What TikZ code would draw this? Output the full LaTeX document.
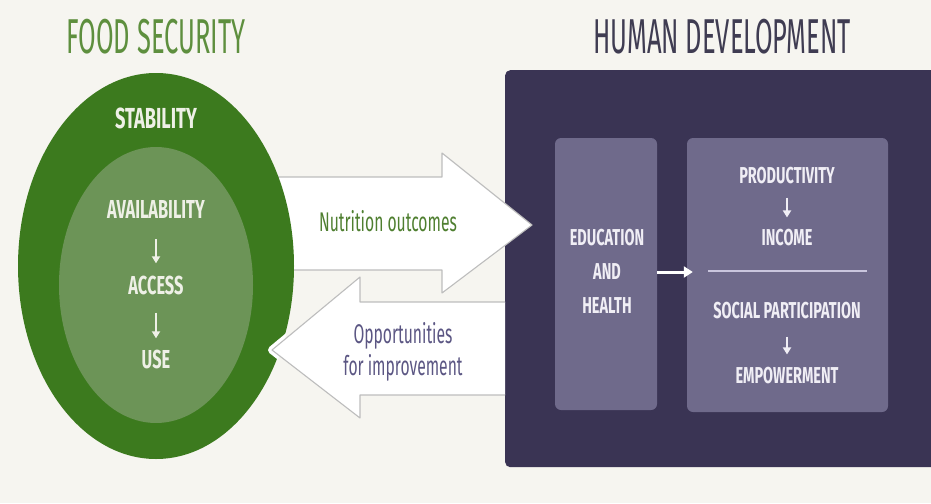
\documentclass[tikz,border=0pt]{standalone}
\usepackage{fontspec}
\setmainfont{Fira Sans}
\newfontfamily\headfont[FakeStretch=0.52]{Fira Sans}
\newfontfamily\capsfont[FakeStretch=0.63]{Fira Sans}
\newfontfamily\notefont[FakeStretch=0.58]{Fira Sans}
\usetikzlibrary{shapes.geometric,arrows.meta}

\definecolor{paper}{HTML}{F6F5F0}
\definecolor{fsgreen}{HTML}{5E8F3E}
\definecolor{hdtitle}{HTML}{3F3C52}
\definecolor{fsdark}{HTML}{3C7A1E}
\definecolor{fslight}{HTML}{6C9457}
\definecolor{fstext}{HTML}{EEF0E6}
\definecolor{panel}{HTML}{3A3454}
\definecolor{card}{HTML}{6F6A8B}
\definecolor{cardtext}{HTML}{F0EEF5}
\definecolor{rulec}{HTML}{C9C5DD}
\definecolor{nutri}{HTML}{4F7F30}
\definecolor{oppo}{HTML}{5B5683}
\definecolor{arrowedge}{HTML}{BDBDBD}

\begin{document}
\begin{tikzpicture}[x=1pt,y=-1pt,
  lab/.style={inner sep=0pt, anchor=base},
  title/.style={lab, font=\headfont\fontsize{49}{49}\selectfont},
  ring/.style={lab, text=fstext, font=\capsfont\bfseries\fontsize{29}{29}\selectfont},
  core/.style={lab, text=fstext, font=\capsfont\bfseries\fontsize{26}{26}\selectfont},
  cardtxt/.style={lab, text=cardtext, font=\capsfont\bfseries\fontsize{23}{23}\selectfont},
  note/.style={lab, font=\notefont\fontsize{27}{27}\selectfont},
  blockarrow/.style={fill=white, draw=arrowedge, line width=1.1pt, line join=round},
  coredown/.style={draw=fstext, line width=2.2pt, -{Triangle[width=8pt,length=7pt]}},
  carddown/.style={draw=cardtext, line width=2.2pt, -{Triangle[width=8pt,length=7pt]}},
  cardcard/.style={draw=white, line width=3pt, -{Triangle[width=11pt,length=9pt]}}
]
\useasboundingbox (0,0) rectangle (931,503);
\fill[paper] (0,0) rectangle (931,503);

\begin{scope}
\clip (0,0) rectangle (931,503);

% titles
\node[title, text=fsgreen] (tfs) at (156,53) {FOOD SECURITY};
\node[title, text=hdtitle] (thd) at (722,53) {HUMAN DEVELOPMENT};

% human development panel and its cards
\node[fill=panel, rounded corners=5pt, minimum width=450pt, minimum height=397pt,
      anchor=north west, inner sep=0pt] (hd) at (505,70) {};
\node[fill=card, rounded corners=6pt, minimum width=102pt, minimum height=272pt,
      inner sep=0pt] (eh) at (606,274) {};
\node[fill=card, rounded corners=6pt, minimum width=201pt, minimum height=274pt,
      inner sep=0pt] (pr) at (787.5,275) {};

% nutrition outcomes arrow (its tail runs under the ring)
\filldraw[blockarrow] (262,177) -- (442,177) -- (442,153) -- (532,225)
  -- (442,293) -- (442,270) -- (262,270) -- cycle;

% food security rings
\node[ellipse, fill=fsdark, minimum width=276pt, minimum height=386pt,
      inner sep=0pt] (fs) at (156,266) {};
\node[ellipse, fill=fslight, minimum width=194pt, minimum height=276pt,
      inner sep=0pt] (fc) at (156,285) {};

% opportunities arrow (its head overlaps the ring)
\begin{scope}
  \clip (156,266) ellipse [x radius=139pt, y radius=194pt];
  \draw[white, line width=8pt, line join=round] (360,277) -- (272,350) -- (360,418);
\end{scope}
\fill[white] (505,302) -- (360,302) -- (360,277) -- (272,350)
  -- (360,418) -- (360,395) -- (505,395) -- cycle;
\draw[draw=arrowedge, line width=1.1pt, line join=round] (505,302) -- (360,302)
  -- (360,277) -- (272,350) -- (360,418) -- (360,395) -- (505,395);

% ring labels
\node[ring] (stab) at (156,128) {STABILITY};
\node[core] (avail) at (156,218) {AVAILABILITY};
\node[core] (acc) at (156,294) {ACCESS};
\node[core] (use) at (156,368) {USE};
\draw[coredown, shorten <=21pt, shorten >=12pt] (avail.south) -- (acc.north);
\draw[coredown, shorten <=18pt, shorten >=11pt] (acc.south) -- (use.north);

% arrow labels
\node[note, text=nutri] (nut) at (388,231) {Nutrition outcomes};
\node[note, text=oppo] (opp1) at (403,343) {Opportunities};
\node[note, text=oppo] (opp2) at (403,375) {for improvement};

% education and health card
\node[cardtxt] (edu) at (607,245) {EDUCATION};
\node[cardtxt] (and) at (607,279) {AND};
\node[cardtxt] (hea) at (607,313) {HEALTH};
\draw[cardcard, shorten >=-6pt] (eh.east |- 0,272) -- (pr.west |- 0,272);

% outcomes card
\node[cardtxt] (prod) at (787,183) {PRODUCTIVITY};
\node[cardtxt] (inc) at (787,245) {INCOME};
\draw[carddown, shorten <=14pt, shorten >=11pt] (prod.south) -- (inc.north);
\coordinate (ruleL) at (708,271);
\coordinate (ruleR) at (867,271);
\draw[rulec, line width=2pt] (ruleL) -- (ruleR);
\node[cardtxt] (soc) at (787,318) {SOCIAL PARTICIPATION};
\node[cardtxt] (emp) at (787,383) {EMPOWERMENT};
\draw[carddown, shorten <=18pt, shorten >=12pt] (soc.south) -- (emp.north);
\end{scope}
\end{tikzpicture}
\end{document}
